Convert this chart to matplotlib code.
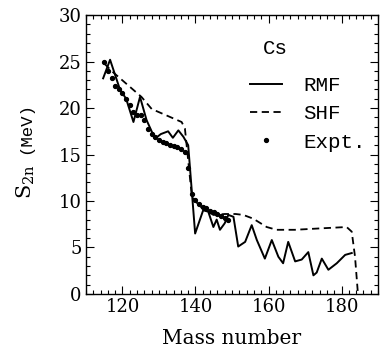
import matplotlib
matplotlib.use("Agg")
import matplotlib.pyplot as plt
from matplotlib.ticker import MultipleLocator, FixedLocator

# RMF (solid)
rmf_A = [114.7, 116.6, 119.3, 121.0, 123.0, 124.8, 126.6, 128.9, 130.5, 132.5, 133.8,
         135.3, 136.7, 138.0, 139.9, 142.1, 143.5, 144.9, 145.8, 146.7, 148.0, 149.0,
         150.4, 151.7, 153.6, 155.4, 156.8, 159.0, 160.9, 162.7, 164.0, 165.4, 167.3,
         169.1, 170.9, 172.3, 173.2, 174.6, 176.4, 178.7, 181.0, 182.8]
rmf_S = [23.2, 25.2, 22.0, 21.0, 18.5, 21.2, 18.7, 16.7, 17.2, 17.5, 16.8,
         17.6, 16.9, 16.0, 6.5, 9.0, 8.85, 7.2, 8.0, 6.9, 7.6, 8.5,
         8.3, 5.1, 5.6, 7.4, 5.8, 3.8, 5.8, 4.0, 3.3, 5.6, 3.5,
         3.7, 4.5, 2.0, 2.3, 3.8, 2.6, 3.3, 4.2, 4.4]

# SHF (dashed)
shf_A = [115.0, 117.0, 125.2, 128.0, 136.2, 137.1, 139.0, 141.2, 144.9, 148.0, 151.0,
         153.1, 155.8, 159.5, 162.2, 167.2, 174.1, 181.4, 182.8, 183.7, 184.5]
shf_S = [24.8, 24.0, 21.2, 19.9, 18.5, 17.8, 10.5, 9.4, 8.5, 8.6, 8.6,
         8.5, 8.1, 7.2, 6.9, 6.9, 7.05, 7.2, 6.7, 4.0, 0.0]

# Experiment (dots)
exp_A = list(range(115, 150))
exp_S = [25.0, 24.0, 23.2, 22.4, 22.0, 21.6, 21.0, 20.3, 19.6, 19.3,
         19.2, 18.7, 17.8, 17.2, 16.9, 16.6, 16.4, 16.2, 16.0, 15.9,
         15.8, 15.6, 15.3, 13.5, 10.7, 10.1, 9.7, 9.4, 9.2, 8.9,
         8.8, 8.6, 8.4, 8.2, 8.0]

xticks = [120, 140, 160, 180]
yticks = [0, 5, 10, 15, 20, 25, 30]

serif = "DejaVu Serif"
mono = "Liberation Mono"

fig = plt.figure(figsize=(3.83, 3.52), dpi=100)
ax = fig.add_axes([0.2245, 0.165, 0.7625, 0.792])

ax.plot(rmf_A, rmf_S, color="black", lw=1.4, ls="-", label="RMF")
ax.plot(shf_A, shf_S, color="black", lw=1.3, ls=(0, (4, 2.5)), label="SHF")
ax.plot(exp_A, exp_S, color="black", ls="none", marker="o", ms=2.8, label="Expt.")

ax.set_xlim(110, 190)
ax.set_ylim(0, 30)
ax.xaxis.set_major_locator(FixedLocator(xticks))
ax.xaxis.set_minor_locator(MultipleLocator(2))
ax.yaxis.set_major_locator(FixedLocator(yticks))
ax.yaxis.set_minor_locator(MultipleLocator(1))
ax.tick_params(which="both", direction="in", top=True, right=True, width=0.8)
ax.tick_params(which="major", length=6)
ax.tick_params(which="minor", length=3)
ax.tick_params(axis="both", labelsize=13, pad=3)
for lab in ax.get_xticklabels() + ax.get_yticklabels():
    lab.set_family(serif)
for s in ax.spines.values():
    s.set_linewidth(1.0)

ax.set_xlabel("Mass number", fontsize=14.5, family=serif, labelpad=9)

fig.text(0.068, 0.483, r"S$_{\mathregular{2n}}$", rotation=90, fontsize=15,
         family=serif, ha="center", va="center")
fig.text(0.066, 0.636, "(MeV)", rotation=90, fontsize=12.5, family=mono,
         ha="center", va="center")

ax.text(0.647, 0.882, "Cs", transform=ax.transAxes, fontsize=15, family=mono,
        ha="center", va="center")

leg = ax.legend(loc="upper left", bbox_to_anchor=(0.562, 0.782), frameon=False,
                prop={"family": mono, "size": 15}, handlelength=1.55,
                handletextpad=1.0, labelspacing=0.45, borderpad=0.0,
                borderaxespad=0.0)

fig.savefig("out.png", dpi=100)
